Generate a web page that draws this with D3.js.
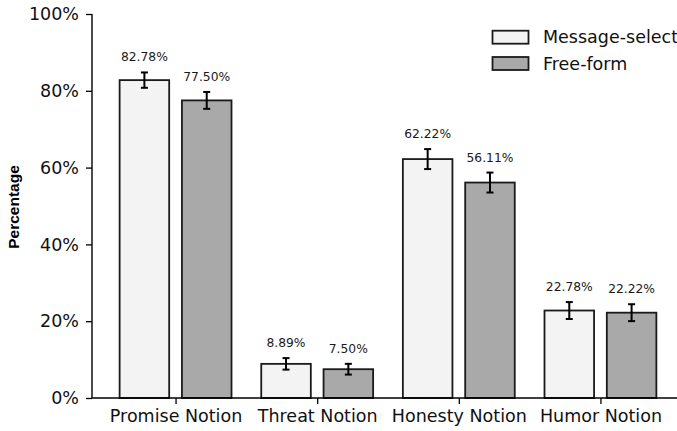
<!DOCTYPE html>
<html>
<head>
<meta charset="utf-8">
<script src="https://cdn.jsdelivr.net/npm/d3@7"></script>
<style>
  body { margin: 0; background: #fff; }
  svg { display: block; font-family: 'DejaVu Sans', sans-serif; }
</style>
</head>
<body>
<div id="chart"></div>
<script>
// data
let categories = ['Promise Notion', 'Threat Notion', 'Honesty Notion', 'Humor Notion'];
let seriesNames = ['Message-select', 'Free-form'];
let messageSelect = [82.78, 8.89, 62.22, 22.78];
let freeForm = [77.50, 7.50, 56.11, 22.22];
let messageSelectErr = [2.0, 1.5, 2.6, 2.2];
let freeFormErr = [2.2, 1.4, 2.6, 2.2];
let yTicks = [0, 20, 40, 60, 80, 100];
let colors = ['#f3f3f3', '#a9a9a9'];

let width = 677;
let height = 431;

let svg = d3.select('#chart')
  .append('svg')
  .attr('width', width)
  .attr('height', height);

// scales (categories sit on integer positions like matplotlib)
let xScale = d3.scaleLinear()
  .domain([-0.59, categories.length - 1 + 0.59])
  .range([92, 684]);
let yScale = d3.scaleLinear()
  .domain([0, 100])
  .range([398, 14]);

let barWidth = 0.35;
let offset = 0.22;

let series = [
  { name: seriesNames[0], values: messageSelect, errs: messageSelectErr, color: colors[0], shift: -offset },
  { name: seriesNames[1], values: freeForm, errs: freeFormErr, color: colors[1], shift: offset }
];

// bars
series.forEach(s => {
  let g = svg.append('g');
  let rows = s.values.map((v, i) => ({ i: i, v: v, e: s.errs[i] }));

  g.selectAll('rect')
    .data(rows)
    .enter()
    .append('rect')
    .attr('x', d => xScale(d.i + s.shift - barWidth / 2))
    .attr('y', d => yScale(d.v))
    .attr('width', d => xScale(barWidth) - xScale(0))
    .attr('height', d => yScale(0) - yScale(d.v))
    .attr('fill', s.color)
    .attr('stroke', '#1a1a1a')
    .attr('stroke-width', 1.8);

  // error bars
  let eb = g.selectAll('.err')
    .data(rows)
    .enter()
    .append('g')
    .attr('stroke', '#000')
    .attr('stroke-width', 2);
  eb.append('line')
    .attr('x1', d => xScale(d.i + s.shift))
    .attr('x2', d => xScale(d.i + s.shift))
    .attr('y1', d => yScale(d.v - d.e))
    .attr('y2', d => yScale(d.v + d.e));
  eb.append('line')
    .attr('x1', d => xScale(d.i + s.shift) - 3.5)
    .attr('x2', d => xScale(d.i + s.shift) + 3.5)
    .attr('y1', d => yScale(d.v + d.e))
    .attr('y2', d => yScale(d.v + d.e));
  eb.append('line')
    .attr('x1', d => xScale(d.i + s.shift) - 3.5)
    .attr('x2', d => xScale(d.i + s.shift) + 3.5)
    .attr('y1', d => yScale(d.v - d.e))
    .attr('y2', d => yScale(d.v - d.e));

  // value labels
  g.selectAll('.lbl')
    .data(rows)
    .enter()
    .append('text')
    .attr('x', d => xScale(d.i + s.shift))
    .attr('y', d => yScale(d.v + d.e) - 11)
    .attr('text-anchor', 'middle')
    .attr('font-size', '12.3px')
    .attr('fill', '#1a1a1a')
    .text(d => d.v.toFixed(2) + '%');
});

// y axis
let yAxis = d3.axisLeft(yScale)
  .tickValues(yTicks)
  .tickSize(6)
  .tickPadding(7)
  .tickFormat(d => d + '%');
let yG = svg.append('g')
  .attr('transform', 'translate(92,0)')
  .call(yAxis);
yG.select('.domain').attr('stroke-width', 1.4).attr('d', 'M0,14V398');
yG.selectAll('.tick line').attr('stroke-width', 1.3);
yG.selectAll('.tick text')
  .attr('font-size', '17.5px')
  .attr('font-family', 'DejaVu Sans')
  .attr('fill', '#111');

// x axis
let xAxis = d3.axisBottom(xScale)
  .tickValues(d3.range(categories.length))
  .tickSize(6)
  .tickPadding(6)
  .tickFormat(i => categories[i]);
let xG = svg.append('g')
  .attr('transform', 'translate(0,398)')
  .call(xAxis);
xG.select('.domain').attr('stroke-width', 1.4).attr('d', 'M92,0H684');
xG.selectAll('.tick line').attr('stroke-width', 1.3);
xG.selectAll('.tick text')
  .attr('font-size', '17.5px')
  .attr('font-family', 'DejaVu Sans')
  .attr('fill', '#111');

// y label
svg.append('text')
  .attr('transform', 'translate(19,207) rotate(-90)')
  .attr('text-anchor', 'middle')
  .attr('font-family', 'Liberation Sans, Arial, sans-serif')
  .attr('font-weight', 'bold')
  .attr('font-size', '15.5px')
  .text('Percentage');

// legend
let legend = svg.append('g')
  .attr('transform', 'translate(492.5,30.7)');
let items = legend.selectAll('g')
  .data(series)
  .enter()
  .append('g')
  .attr('transform', (d, i) => 'translate(0,' + (i * 26.3) + ')');
items.append('rect')
  .attr('width', 36)
  .attr('height', 13)
  .attr('fill', d => d.color)
  .attr('stroke', '#1a1a1a')
  .attr('stroke-width', 1.8);
items.append('text')
  .attr('x', 50.5)
  .attr('y', 12.7)
  .attr('font-size', '17.5px')
  .attr('fill', '#111')
  .text(d => d.name);
</script>
</body>
</html>
